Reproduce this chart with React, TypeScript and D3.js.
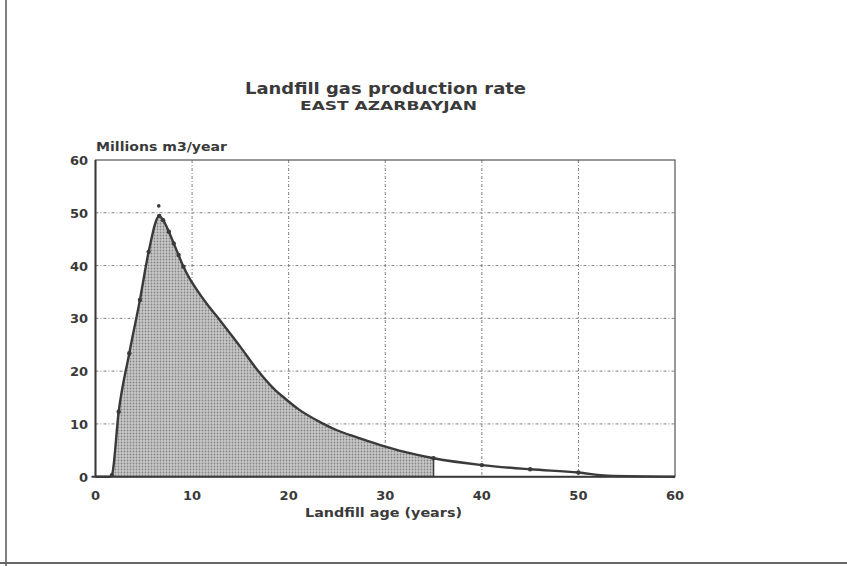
import React from "react";
import * as d3 from "d3";

// Landfill gas production rate.
const ages = [0, 1.5, 1.7, 2.4, 3.5, 4.6, 5.5, 6.6, 7.0, 7.6, 8.1, 8.6, 9.1, 9.6, 10.5, 11.5, 12.9, 14, 15, 16.6, 18.4, 19.5, 21, 23.3, 25, 27, 29.5, 32, 35, 40, 45, 50, 53, 60];
const rates = [0, 0, 0.3, 12.3, 23.4, 33.5, 42.6, 49.4, 48.6, 46.4, 44.2, 42, 39.8, 38.0, 35.4, 32.8, 29.6, 27.0, 24.6, 20.6, 16.8, 15.0, 12.8, 10.3, 8.8, 7.5, 6.0, 4.7, 3.5, 2.2, 1.4, 0.8, 0.2, 0];

const markerAges = [1.7, 2.4, 3.5, 4.6, 5.5, 6.6, 7.0, 7.6, 8.1, 8.6, 9.1, 35, 40, 45, 50];
const markerRates = [0.3, 12.3, 23.4, 33.5, 42.6, 49.4, 48.6, 46.4, 44.2, 42, 39.8, 3.5, 2.2, 1.4, 0.8];

// stray dot above the peak
const extraAges = [6.55];
const extraRates = [51.3];

const shadeFrom = 1.7;
const shadeTo = 35;

const xTicks = [0, 10, 20, 30, 40, 50, 60];
const yTicks = [0, 10, 20, 30, 40, 50, 60];

const title = "Landfill gas production rate";
const subtitle = "EAST AZARBAYJAN";
const yLabel = "Millions m3/year";
const xLabel = "Landfill age (years)";

const W = 847;
const H = 566;
const ink = "#3a3a3a";
const font = "'DejaVu Sans', 'Liberation Sans', Arial, sans-serif";

export default function App() {
    const x = d3.scaleLinear().domain([0, 60]).range([95.5, 675]);
    const y = d3.scaleLinear().domain([0, 60]).range([476.7, 160]);

    const points: [number, number][] = ages.map((a, i) => [a, rates[i]]);

    const line = d3.line<[number, number]>()
        .x((d) => x(d[0]))
        .y((d) => y(d[1]))
        .curve(d3.curveMonotoneX);

    const shaded = points.filter((d) => d[0] >= shadeFrom && d[0] <= shadeTo);
    const area = d3.area<[number, number]>()
        .x((d) => x(d[0]))
        .y0(y(0))
        .y1((d) => y(d[1]))
        .curve(d3.curveMonotoneX);

    const [x0, x1] = x.range();
    const [yb, yt] = y.range();

    return (
        <svg width={W} height={H} style={{ position: "absolute", left: 0, top: 0, display: "block" }}>
            <defs>
                <pattern id="halftone" width="3" height="3" patternUnits="userSpaceOnUse">
                    <rect width="3" height="3" fill="#c8c8c8" />
                    <circle cx="1.5" cy="1.5" r="0.9" fill="#858585" />
                </pattern>
            </defs>
            <rect width={W} height={H} fill="#ffffff" />

            {/* scan edges */}
            <line x1={6} x2={6} y1={0} y2={H} stroke="#555" strokeWidth={1.5} />
            <line x1={0} x2={W} y1={563} y2={563} stroke="#666" strokeWidth={2} />

            <g fontFamily={font} fontWeight="bold" fill={ink}>
                <text x={245} y={93.5} fontSize={15} textLength={281} lengthAdjust="spacingAndGlyphs">{title}</text>
                <text x={300} y={109.5} fontSize={12} textLength={177} lengthAdjust="spacingAndGlyphs">{subtitle}</text>
                <text x={96} y={151} fontSize={11.5} textLength={131} lengthAdjust="spacingAndGlyphs">{yLabel}</text>
                <text x={305} y={517} fontSize={12.5} textLength={157} lengthAdjust="spacingAndGlyphs">{xLabel}</text>
            </g>

            {/* grid */}
            <g stroke="#808080" strokeWidth={1} strokeDasharray="3,2,1,2">
                {yTicks.slice(1, -1).map((t) => (
                    <line key={"gy" + t} x1={x0} x2={x1} y1={y(t)} y2={y(t)} />
                ))}
                {xTicks.slice(1, -1).map((t) => (
                    <line key={"gx" + t} x1={x(t)} x2={x(t)} y1={yt} y2={yb} />
                ))}
            </g>

            <path d={area(shaded) ?? ""} fill="url(#halftone)" />
            <line x1={x(shadeTo)} x2={x(shadeTo)} y1={y(0)} y2={y(rates[ages.indexOf(shadeTo)])} stroke={ink} strokeWidth={1.5} />

            {/* frame */}
            <rect x={x0} y={yt} width={x1 - x0} height={yb - yt} fill="none" stroke="#555" strokeWidth={1.2} />
            <line x1={x0} x2={x0} y1={yt} y2={yb} stroke={ink} strokeWidth={2} />
            <line x1={x0 - 4} x2={x1} y1={yb} y2={yb} stroke={ink} strokeWidth={2} />

            <path d={line(points) ?? ""} fill="none" stroke={ink} strokeWidth={2.4} strokeLinejoin="round" />

            <g fill={ink}>
                {markerAges.map((a, i) => (
                    <circle key={"m" + i} cx={x(a)} cy={y(markerRates[i])} r={2.2} />
                ))}
                {extraAges.map((a, i) => (
                    <circle key={"e" + i} cx={x(a)} cy={y(extraRates[i])} r={1.8} />
                ))}
            </g>

            <g fontFamily={font} fontWeight="bold" fill={ink} fontSize={13}>
                {yTicks.map((t) => (
                    <text key={"ty" + t} x={88} y={y(t) + 5} textAnchor="end">{t}</text>
                ))}
                {xTicks.map((t) => (
                    <text key={"tx" + t} x={x(t)} y={500} textAnchor="middle">{t}</text>
                ))}
            </g>
        </svg>
    );
}
